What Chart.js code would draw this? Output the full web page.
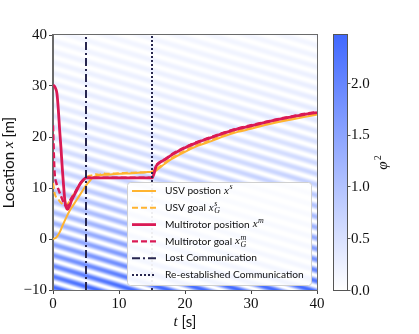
<!DOCTYPE html>
<html><head><meta charset="utf-8">
<script src="https://cdn.jsdelivr.net/npm/chart.js@4.4.0/dist/chart.umd.min.js"></script>
<style>html,body{margin:0;padding:0;background:#fff;overflow:hidden}</style>
</head><body>
<canvas id="c" width="419" height="334"></canvas>
<script>
// ---- data ----
const usvPosT  = [0,0.5,1,1.5,2,2.5,3,3.5,4,4.5,5,5.5,6,6.5,7,8,10,12,14,15,15.5,16,17,18,20,22,24,26,28,30,32,34,36,38,40];
const usvPosX  = [0,0.3,1.3,2.8,4.2,5.5,6.5,7.5,8.5,9.5,10.5,11.3,12.0,12.3,12.5,12.6,12.8,12.9,13.1,13.2,13.3,13.8,14.8,15.7,17.1,18.3,19.2,20.2,21.0,21.6,22.3,22.9,23.4,23.9,24.4];
const usvGoalT = [0,0.3,0.7,1.0,1.5,1.9,2.3,2.7,3.1,3.5,4.0,4.5,5.0,5.5,6.0,6.5,7.0,7.5,8,10,12,14,15,15.5,16,17,18,20,22,24,26,28,30,32,34,36,38,40];
const usvGoalX = [11,8.7,8.0,7.4,6.8,6.6,7.0,7.9,8.7,9.6,10.5,11.3,12.0,12.4,12.5,12.7,12.6,12.9,12.8,12.9,13.0,13.1,13.2,13.5,14.0,15.0,15.9,17.3,18.5,19.4,20.4,21.2,21.8,22.5,23.1,23.6,24.1,24.6];
const mrPosT   = [0,0.3,0.6,0.8,1.0,1.2,1.4,1.6,1.8,2.0,2.2,2.5,2.8,3.1,3.5,3.8,4.2,4.6,5.0,10,15,15.3,15.6,16,17,18,20,22,24,26,28,30,32,34,36,38,40];
const mrPosX   = [30.2,29.8,28.5,25.5,21.5,18,14,10.5,7.5,6.2,5.8,6.5,7.5,8.3,9.3,10.1,11.0,11.6,12.0,12.0,12.0,12.8,14.2,14.8,15.6,16.5,17.9,19.0,19.9,20.8,21.6,22.2,22.8,23.4,23.9,24.4,24.8];
const mrGoalT  = [0,0.1,0.2,0.3,0.5,0.8,1.1,1.4,1.7,2.0,2.3,2.6,3.0,3.5,4.0,4.5,5.0,10,15,15.3,15.6,16,17,18,20,22,24,26,28,30,32,34,36,38,40];
const mrGoalX  = [22.3,18,14,12.2,11,9.8,8.8,7.8,6.9,6.5,6.6,7.6,8.4,9.5,10.6,11.5,12.0,12.0,12.0,13.0,14.3,14.9,15.7,16.6,18.0,19.1,20.0,20.9,21.7,22.3,22.9,23.5,24.0,24.5,24.9];
const lostCommT = 5;
const reCommT = 15;
const xTicks = [0,10,20,30,40];
const yTicks = [-10,0,10,20,30,40];
const cbTicks = [0.0,0.5,1.0,1.5,2.0];
const cbMax = 2.46;
const seriesLabels = ["USV postion", "USV goal", "Multirotor position", "Multirotor goal", "Lost Communication", "Re-established Communication"];

const pts = (t, v) => t.map((ti, i) => ({x: ti, y: v[i]}));
const ORANGE = '#FFB431', RED = '#DA1A55', NAVY = '#27264F';

function fieldVal(t, x) {
  const a = 2.45 * Math.exp(-(x + 10) / 18);
  const s = Math.sin(Math.PI * (x + 0.39 * t) / 2.1);
  return a * s * s;
}
function cmap(v) {
  const c = Math.max(0, Math.min(1, v / cbMax));
  return [255 - 190 * c, 255 - 150 * c, 255];
}

const bgPlugin = {
  id: 'bg',
  beforeDraw(chart) {
    const {ctx, chartArea: a, scales} = chart;
    const w = Math.round(a.right - a.left), h = Math.round(a.bottom - a.top);
    const off = document.createElement('canvas'); off.width = w; off.height = h;
    const octx = off.getContext('2d'); const img = octx.createImageData(w, h);
    for (let j = 0; j < h; j++) {
      const yv = scales.y.getValueForPixel(a.top + j + 0.5);
      for (let i = 0; i < w; i++) {
        const tv = scales.x.getValueForPixel(a.left + i + 0.5);
        const col = cmap(fieldVal(tv, yv));
        const k = (j * w + i) * 4;
        img.data[k] = col[0]; img.data[k+1] = col[1]; img.data[k+2] = col[2]; img.data[k+3] = 255;
      }
    }
    octx.putImageData(img, 0, 0);
    ctx.drawImage(off, a.left, a.top);
  }
};

function drawMath(ctx, x, y, base, sup, sub, size) {
  ctx.font = `italic ${size}px "Liberation Serif"`;
  ctx.fillText(base, x, y);
  let w = ctx.measureText(base).width;
  let ew = 0;
  ctx.font = `italic ${Math.round(size * 0.7)}px "Liberation Serif"`;
  if (sup) { ctx.fillText(sup, x + w + 0.5, y - size * 0.35); ew = Math.max(ew, ctx.measureText(sup).width); }
  if (sub) { ctx.fillText(sub, x + w + 0.5, y + size * 0.3); ew = Math.max(ew, ctx.measureText(sub).width); }
  return w + ew + 1;
}

const decoPlugin = {
  id: 'deco',
  afterDatasetsDraw(chart) {
    const {ctx, chartArea: a} = chart;
    ctx.save();
    ctx.strokeStyle = '#6a6a6a'; ctx.lineWidth = 1;
    ctx.strokeRect(Math.round(a.left) - 0.5, Math.round(a.top) - 0.5, a.right - a.left + 1, a.bottom - a.top + 1);
    // legend
    const lx = 127, ly = 182, lw = 184, lh = 103;
    ctx.beginPath(); ctx.roundRect(lx + 0.5, ly + 0.5, lw, lh, 3);
    ctx.fillStyle = 'rgba(255,255,255,0.92)'; ctx.fill();
    ctx.strokeStyle = '#d0d0d0'; ctx.stroke();
    // font size chosen so the longest label spans the legend's text width
    ctx.font = '11px Lato';
    const wLong = ctx.measureText(seriesLabels[5]).width;
    const fs = 11 * 139 / wLong;
    const ds = chart.data.datasets;
    ds.forEach((d, r) => {
      const yy = 191 + r * 16.8;
      ctx.save();
      ctx.strokeStyle = d.borderColor; ctx.lineWidth = d.borderWidth;
      ctx.setLineDash(d.borderDash || []);
      ctx.beginPath(); ctx.moveTo(132, yy); ctx.lineTo(156, yy); ctx.stroke();
      ctx.restore();
      ctx.fillStyle = '#111'; ctx.textBaseline = 'middle'; ctx.textAlign = 'left';
      ctx.font = `${fs}px Lato`;
      ctx.fillText(d.label, 165, yy);
      const xx = 165 + ctx.measureText(d.label).width + 3;
      if (d.mathSup || d.mathSub) drawMath(ctx, xx, yy, 'x', d.mathSup, d.mathSub, 11);
    });
    ctx.restore();
  },
  afterDraw(chart) {
    const {ctx, chartArea: a} = chart;
    ctx.save();
    ctx.fillStyle = '#111'; ctx.textBaseline = 'middle';
    // y axis title
    ctx.save();
    ctx.translate(9, (a.top + a.bottom) / 2); ctx.rotate(-Math.PI / 2);
    ctx.font = '15px Lato';
    const p1 = 'Location ', p3 = ' [m]';
    const w1 = ctx.measureText(p1).width, w3 = ctx.measureText(p3).width;
    ctx.font = 'italic 15px "Liberation Serif"';
    const w2 = ctx.measureText('x').width;
    let sx = -(w1 + w2 + w3) / 2;
    ctx.font = '15px Lato'; ctx.fillText(p1, sx, 0);
    ctx.font = 'italic 15px "Liberation Serif"'; ctx.fillText('x', sx + w1, 0);
    ctx.font = '15px Lato'; ctx.fillText(p3, sx + w1 + w2, 0);
    ctx.restore();
    // x axis title
    {
      ctx.font = 'italic 15px "Liberation Serif"';
      const wt = ctx.measureText('t').width;
      ctx.font = '15px Lato';
      const ws = ctx.measureText(' [s]').width;
      const cx = (a.left + a.right) / 2 - (wt + ws) / 2;
      ctx.font = 'italic 15px "Liberation Serif"'; ctx.fillText('t', cx, 322);
      ctx.font = '15px Lato'; ctx.fillText(' [s]', cx + wt, 322);
    }
    // colorbar
    const cx0 = 333, cx1 = 347, cy0 = a.top, cy1 = a.bottom;
    const g = ctx.createLinearGradient(0, cy1, 0, cy0);
    for (let s = 0; s <= 10; s++) { const c = cmap(cbMax * s / 10); g.addColorStop(s / 10, `rgb(${c[0]},${c[1]},${c[2]})`); }
    ctx.fillStyle = g; ctx.fillRect(cx0, cy0, cx1 - cx0, cy1 - cy0);
    ctx.strokeStyle = '#555'; ctx.lineWidth = 1;
    ctx.strokeRect(cx0 + 0.5, cy0 - 0.5, cx1 - cx0, cy1 - cy0 + 1);
    ctx.fillStyle = '#111'; ctx.font = '15px "Liberation Serif"'; ctx.textAlign = 'left';
    cbTicks.forEach(v => {
      const yy = cy1 - (cy1 - cy0) * v / cbMax;
      ctx.beginPath(); ctx.moveTo(cx1, Math.round(yy) + 0.5); ctx.lineTo(cx1 + 3.5, Math.round(yy) + 0.5); ctx.stroke();
      ctx.fillText(v.toFixed(1), cx1 + 4, yy + 1);
    });
    ctx.save();
    ctx.translate(383, (cy0 + cy1) / 2); ctx.rotate(-Math.PI / 2);
    ctx.textAlign = 'left';
    ctx.font = 'italic 15px "Liberation Serif"';
    const wp = ctx.measureText('φ').width;
    ctx.fillText('φ', -wp / 2 - 3, 0);
    ctx.font = '10px "Liberation Serif"';
    ctx.fillText('2', wp / 2 - 2, -5);
    ctx.restore();
    ctx.restore();
  }
};

const chart = new Chart(document.getElementById('c'), {
  type: 'line',
  data: {
    datasets: [
      {label: seriesLabels[0], mathSup: 's', data: pts(usvPosT, usvPosX), borderColor: ORANGE, borderWidth: 2, order: 5, cubicInterpolationMode: 'monotone'},
      {label: seriesLabels[1], mathSup: 's', mathSub: 'G', data: pts(usvGoalT, usvGoalX), borderColor: ORANGE, borderWidth: 2, borderDash: [6, 3], order: 4, cubicInterpolationMode: 'monotone'},
      {label: seriesLabels[2], mathSup: 'm', data: pts(mrPosT, mrPosX), borderColor: RED, borderWidth: 2.8, order: 3, cubicInterpolationMode: 'monotone'},
      {label: seriesLabels[3], mathSup: 'm', mathSub: 'G', data: pts(mrGoalT, mrGoalX), borderColor: RED, borderWidth: 2.4, borderDash: [6, 3], order: 2, cubicInterpolationMode: 'monotone'},
      {label: seriesLabels[4], data: [{x: lostCommT, y: -10}, {x: lostCommT, y: 40}], borderColor: NAVY, borderWidth: 2, borderDash: [8, 3, 2, 3], order: 1},
      {label: seriesLabels[5], data: [{x: reCommT, y: -10}, {x: reCommT, y: 40}], borderColor: NAVY, borderWidth: 2, borderDash: [2, 2], order: 0}
    ]
  },
  options: {
    responsive: false, animation: false, devicePixelRatio: 1,
    layout: {padding: {left: 0, right: 102, top: 35, bottom: 0}},
    elements: {point: {radius: 0}, line: {fill: false}},
    plugins: {legend: {display: false}, tooltip: {enabled: false}},
    scales: {
      x: {
        type: 'linear', min: 0, max: 40,
        afterBuildTicks: s => { s.ticks = xTicks.map(v => ({value: v})); },
        afterFit: s => { s.height = 44; },
        ticks: {color: '#111', font: {family: 'Liberation Serif', size: 15}, padding: 1, maxRotation: 0},
        grid: {display: true, drawOnChartArea: false, drawTicks: true, tickLength: 4, color: '#444'},
        border: {display: true, color: '#6a6a6a'}
      },
      y: {
        type: 'linear', min: -10, max: 40,
        afterBuildTicks: s => { s.ticks = yTicks.map(v => ({value: v})); },
        afterFit: s => { s.width = 53; },
        ticks: {color: '#111', font: {family: 'Liberation Serif', size: 15}, padding: 2,
          callback: v => (v < 0 ? '\u2212' + Math.abs(v) : String(v))},
        grid: {display: true, drawOnChartArea: false, drawTicks: true, tickLength: 4, color: '#444'},
        border: {display: true, color: '#6a6a6a'}
      }
    }
  },
  plugins: [bgPlugin, decoPlugin]
});
</script>
</body></html>
